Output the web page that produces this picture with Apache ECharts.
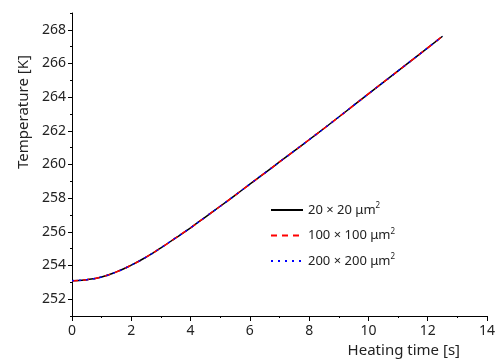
<!DOCTYPE html>
<html><head><meta charset="utf-8">
<script src="https://cdn.jsdelivr.net/npm/echarts@6/dist/echarts.min.js"></script>
<style>html,body{margin:0;padding:0;background:#fff}#c{width:498px;height:362px}</style>
</head><body><div id="c"></div>
<script>
var times = [0,0.5,1,1.5,2,2.5,3,3.5,4,4.5,5,5.5,6,6.5,7,7.5,8,8.5,9,9.5,10,10.5,11,11.5,12,12.5];
var temp20 = [253.10,253.16,253.32,253.62,254.02,254.50,255.05,255.64,256.24,256.88,257.52,258.17,258.83,259.49,260.15,260.81,261.47,262.14,262.82,263.51,264.20,264.88,265.56,266.24,266.93,267.62];
var temp100 = temp20.slice();
var temp200 = temp20.slice();
var yMajorTicks = [252,254,256,258,260,262,264,266,268];
var seriesNames = ['20 × 20 μm', '100 × 100 μm', '200 × 200 μm'];

function pairs(v){ return times.map(function(t,i){ return [t, v[i]]; }); }
var font = 'Noto Sans';
var chart = echarts.init(document.getElementById('c'));
chart.setOption({
  animation: false,
  grid: {left: 72, right: 11, top: 13, bottom: 46},
  xAxis: {
    type: 'value', min: 0, max: 14, interval: 2,
    axisLine: {lineStyle: {color: '#000', width: 1}},
    axisTick: {length: 5, lineStyle: {color: '#000'}},
    minorTick: {show: true, splitNumber: 2, length: 2, lineStyle: {color: '#000'}},
    splitLine: {show: false},
    axisLabel: {color: '#222', fontFamily: font, fontSize: 14, margin: 8}
  },
  yAxis: [{
    type: 'value', min: 251, max: 269, interval: 1,
    axisLine: {show: true, lineStyle: {color: '#000', width: 1}},
    axisTick: {show: true, length: 2, lineStyle: {color: '#000'}},
    splitLine: {show: false},
    axisLabel: {show: false}
  }, {
    type: 'value', min: 251, max: 269, position: 'left',
    axisLine: {show: false},
    axisTick: {show: true, length: 4, customValues: yMajorTicks, lineStyle: {color: '#000'}},
    splitLine: {show: false},
    axisLabel: {customValues: yMajorTicks, color: '#222', fontFamily: font, fontSize: 14, margin: 6}
  }],
  legend: {
    orient: 'vertical', left: 265, top: 197, itemWidth: 32, itemHeight: 14, itemGap: 11,
    itemStyle: {opacity: 0},
    textStyle: {fontFamily: font, fontSize: 13, color: '#222',
      rich: {a: {fontFamily: font, fontSize: 13, color: '#222'}, s: {fontFamily: font, fontSize: 8, color: '#222', verticalAlign: 'top', padding: [0,0,8,0]}}},
    formatter: function(n){ return '{a|' + n + '}{s|2}'; },
    data: seriesNames
  },
  graphic: [
    {type: 'text', x: 24, y: 112, rotation: Math.PI/2,
     style: {text: 'Temperature [K]', fontFamily: font, fontSize: 15, fill: '#222', textAlign: 'center', textVerticalAlign: 'middle'}},
    {type: 'text', x: 460, y: 351,
     style: {text: 'Heating time [s]', fontFamily: font, fontSize: 15, fill: '#222', textAlign: 'right', textVerticalAlign: 'middle'}}
  ],
  series: [
    {name: seriesNames[0], type: 'line', data: pairs(temp20), symbol: 'none', smooth: true, z: 2,
     lineStyle: {color: '#000', width: 1.5, type: 'solid'}, itemStyle: {color: '#000'}},
    {name: seriesNames[1], type: 'line', data: pairs(temp100), symbol: 'none', smooth: true, z: 3,
     lineStyle: {color: '#ff0000', width: 1.5, type: [6, 5]}, itemStyle: {color: '#ff0000'}},
    {name: seriesNames[2], type: 'line', data: pairs(temp200), symbol: 'none', smooth: true, z: 4,
     lineStyle: {color: '#0000ff', width: 1.5, type: [2, 5]}, itemStyle: {color: '#0000ff'}}
  ]
});
</script></body></html>
